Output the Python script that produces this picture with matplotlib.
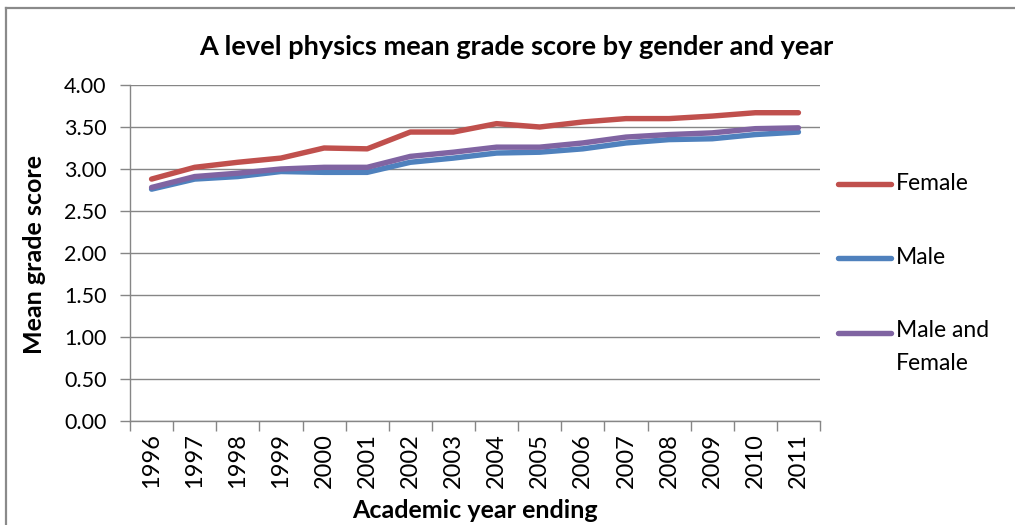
import matplotlib
matplotlib.use("Agg")
import matplotlib.pyplot as plt
from matplotlib.lines import Line2D

years = ["1996", "1997", "1998", "1999", "2000", "2001", "2002", "2003",
         "2004", "2005", "2006", "2007", "2008", "2009", "2010", "2011"]
female = [2.88, 3.02, 3.08, 3.13, 3.25, 3.24, 3.44, 3.44,
          3.54, 3.50, 3.56, 3.60, 3.60, 3.63, 3.67, 3.67]
male = [2.76, 2.88, 2.91, 2.97, 2.96, 2.96, 3.08, 3.13,
        3.19, 3.20, 3.24, 3.31, 3.35, 3.36, 3.41, 3.44]
both = [2.78, 2.91, 2.95, 3.00, 3.02, 3.02, 3.15, 3.20,
        3.26, 3.26, 3.31, 3.38, 3.41, 3.43, 3.48, 3.49]
series_names = ["Female", "Male", "Male and\nFemale"]
series_colors = ["#C0504D", "#4F81BD", "#8064A2"]
yticks = [0.0, 0.5, 1.0, 1.5, 2.0, 2.5, 3.0, 3.5, 4.0]

plt.rcParams['font.family'] = ['Lato', 'DejaVu Sans']

W, H = 1015, 525
fig = plt.figure(figsize=(W / 100, H / 100), dpi=100)
ax = fig.add_axes([130 / W, 1 - 421 / H, (820 - 130) / W, (421 - 85) / H])

grid_c = "#868686"
x = list(range(len(years)))
for vals, c in zip([female, male, both], series_colors):
    ax.plot(x, vals, color=c, lw=3.9, solid_capstyle='round', solid_joinstyle='round', zorder=3)

ax.set_xlim(-0.5, len(years) - 0.5)
ax.set_ylim(0, 4)
ax.set_yticks(yticks)
ax.set_yticklabels([f"{v:.2f}" for v in yticks], fontsize=15.5, color="#000000")
ax.set_xticks(x)
ax.set_xticklabels(years, rotation=90, fontsize=17, color="#000000")
ax.set_xticks([i - 0.5 for i in range(len(years) + 1)], minor=True)
ax.tick_params(axis='x', which='major', length=0, pad=9)
ax.tick_params(axis='x', which='minor', length=7, color=grid_c, width=1)
ax.tick_params(axis='y', length=7, color=grid_c, width=1, pad=10)
ax.grid(axis='y', color=grid_c, lw=1)
ax.set_axisbelow(True)
for s in ['top', 'right']:
    ax.spines[s].set_visible(False)
for s in ['left', 'bottom']:
    ax.spines[s].set_color(grid_c)
    ax.spines[s].set_linewidth(1)

fig.text(516 / W, 1 - 47 / H, "A level physics mean grade score by gender and year",
         ha='center', va='center', fontsize=19.5, fontweight='bold')
fig.text(35 / W, 1 - 255 / H, "Mean grade score", rotation=90,
         ha='center', va='center', fontsize=18, fontweight='bold')
fig.text(475 / W, 1 - 510 / H, "Academic year ending",
         ha='center', va='center', fontsize=18, fontweight='bold')

# legend
leg_y = [184, 258, 333]
for name, c, yy in zip(series_names, series_colors, leg_y):
    fig.add_artist(Line2D([838 / W, 891 / W], [1 - yy / H, 1 - yy / H], color=c, lw=3.9,
                          solid_capstyle='round', transform=fig.transFigure))
    if '\n' in name:
        fig.text(896 / W, 1 - (yy - 13) / H, name, ha='left', va='top',
                 fontsize=16.5, linespacing=1.68)
    else:
        fig.text(896 / W, 1 - yy / H, name, ha='left', va='center', fontsize=16.5)

# outer frame
fig.add_artist(Line2D([5.5 / W, 5.5 / W], [0, 1 - 7.5 / H], color="#8a8a8a", lw=1.6,
                      transform=fig.transFigure))
fig.add_artist(Line2D([5.5 / W, 1], [1 - 7.5 / H, 1 - 7.5 / H], color="#8a8a8a", lw=1.6,
                      transform=fig.transFigure))

fig.savefig("out.png", dpi=100)
